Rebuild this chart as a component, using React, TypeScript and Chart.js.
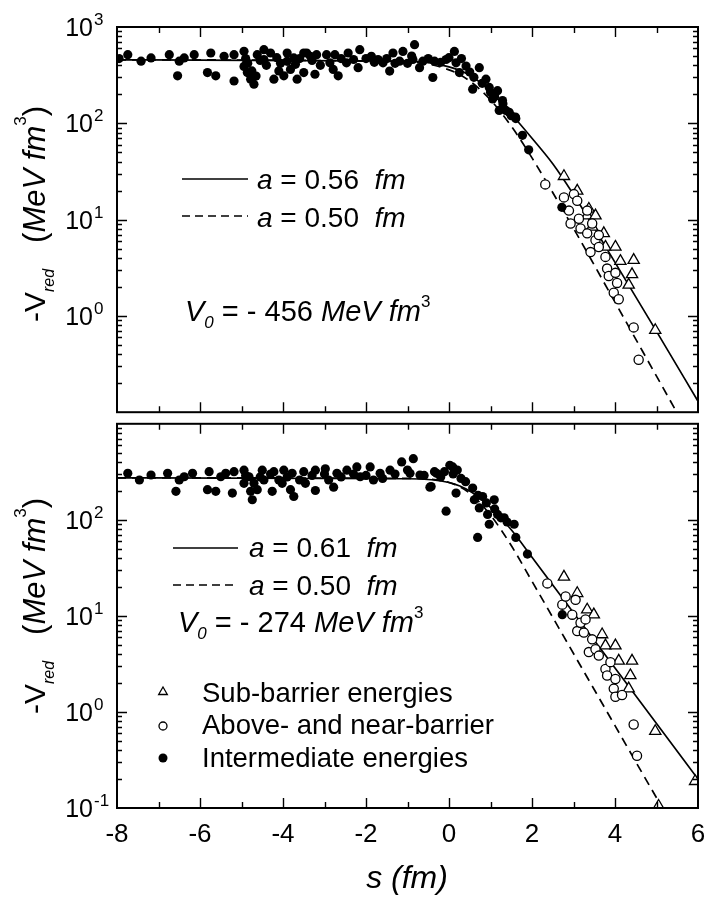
import React, { useEffect, useRef } from "react";
import { Chart, registerables } from "chart.js";
Chart.register(...registerables);

const FONT = '"Liberation Sans", Arial, Helvetica, sans-serif';

// ---------------- axes ----------------
const X_MIN = -8;
const X_MAX = 6;
const Y_MIN = 0.1;
const Y_MAX = 1000;
const xTickValues = [-8, -7, -6, -5, -4, -3, -2, -1, 0, 1, 2, 3, 4, 5, 6];
const xLabelValues = [-8, -6, -4, -2, 0, 2, 4, 6];
const xLabelTexts = ["-8", "-6", "-4", "-2", "0", "2", "4", "6"];
const yDecades = [0.1, 1, 10, 100, 1000];
const yMinorMultipliers = [2, 3, 4, 5, 6, 7, 8, 9];
const topYLabelValues = [1000, 100, 10, 1];
const topYLabelExps = ["3", "2", "1", "0"];
const botYLabelValues = [100, 10, 1, 0.1];
const botYLabelExps = ["2", "1", "0", "-1"];

// ---------------- top panel data (s [fm], -V_red) ----------------
const topFilled: [number, number][] = [
  [-7.95, 470], [-7.74, 516], [-7.42, 442], [-7.18, 477], [-6.74, 516], [-6.54, 311], [-6.5, 442],
  [-6.38, 477], [-6.14, 516], [-5.82, 336], [-5.74, 537], [-5.62, 311], [-5.42, 497], [-5.18, 516],
  [-5.18, 275], [-4.94, 560], [-4.94, 390], [-4.9, 470], [-4.86, 336], [-4.85, 420], [-4.78, 287],
  [-4.75, 350], [-4.7, 255], [-4.65, 310], [-4.62, 516], [-4.55, 450], [-4.46, 581], [-4.46, 460],
  [-4.4, 400], [-4.3, 537], [-4.22, 287], [-4.15, 480], [-4.1, 350], [-4.06, 420], [-3.98, 311],
  [-3.9, 537], [-3.9, 440], [-3.82, 363], [-3.74, 477], [-3.7, 410], [-3.66, 287], [-3.6, 470],
  [-3.5, 537], [-3.5, 336], [-3.43, 537], [-3.34, 497], [-3.3, 450], [-3.23, 323], [-3.19, 516],
  [-3.1, 400], [-2.95, 516], [-2.87, 425], [-2.79, 363], [-2.75, 516], [-2.67, 311], [-2.6, 470],
  [-2.47, 425], [-2.43, 537], [-2.3, 460], [-2.19, 378], [-2.15, 581], [-2.0, 470], [-1.87, 497],
  [-1.8, 430], [-1.71, 460], [-1.59, 425], [-1.5, 470], [-1.43, 349], [-1.35, 537], [-1.3, 420],
  [-1.19, 442], [-1.11, 558], [-1.0, 420], [-0.9, 500], [-0.87, 460], [-0.83, 655], [-0.71, 378],
  [-0.63, 442], [-0.5, 470], [-0.39, 299], [-0.35, 442], [-0.2, 430], [-0.07, 460], [0.0, 480],
  [0.13, 558], [0.17, 425], [0.25, 336], [0.3, 470], [0.41, 393], [0.5, 340], [0.57, 226],
  [0.6, 300], [0.73, 378], [0.8, 260], [0.89, 287], [0.97, 236], [1.0, 210], [1.05, 179],
  [1.1, 190], [1.17, 218], [1.21, 136], [1.29, 172], [1.3, 160], [1.37, 136], [1.45, 130],
  [1.5, 120], [1.6, 116], [1.61, 112], [1.77, 75], [1.92, 53], [2.72, 13.4],
];
const topOpen: [number, number][] = [
  [2.32, 23.2], [2.77, 17], [2.89, 12.4], [2.93, 9.1], [3.01, 18.4], [3.09, 15.7], [3.13, 10.2],
  [3.17, 8.1], [3.33, 12.4], [3.33, 7.2], [3.41, 4.6], [3.45, 9.1], [3.53, 6.1], [3.61, 5.2],
  [3.61, 6.9], [3.77, 4.1], [3.81, 3.1], [3.85, 2.6], [3.97, 1.74], [4.01, 2.8], [4.05, 2.2],
  [4.09, 1.49], [4.45, 0.76], [4.57, 0.35],
];
const topTriangles: [number, number][] = [
  [2.77, 28.2], [3.09, 19.9], [3.33, 11], [3.37, 12.9], [3.45, 8.4], [3.53, 11], [3.73, 7.2],
  [3.77, 5.2], [4.01, 5.2], [4.13, 3.7], [4.33, 2.1], [4.41, 2.7], [4.45, 3.8], [4.97, 0.71],
];
const topSolidS = [-8, -1, 0, 0.5, 1, 1.5, 2, 2.5, 3, 4, 5, 6];
const topSolidV = [456, 442, 385, 315, 215, 125, 70, 38, 18.2, 3.6, 0.69, 0.13];
const topDashedS = [-8, -1, 0, 0.5, 1, 1.5, 2, 3, 4, 5, 5.6];
const topDashedV = [456, 436, 359, 275, 175, 93.5, 43.7, 8.1, 1.39, 0.237, 0.082];

// ---------------- bottom panel data ----------------
const botFilled: [number, number][] = [
  [-7.74, 305], [-7.46, 260], [-7.18, 293], [-6.78, 305], [-6.58, 198], [-6.5, 260], [-6.38, 281],
  [-6.18, 305], [-5.82, 206], [-5.78, 317], [-5.62, 198], [-5.5, 281], [-5.38, 305], [-5.22, 190],
  [-5.18, 317], [-4.94, 329], [-4.94, 240], [-4.9, 290], [-4.82, 281], [-4.78, 198], [-4.74, 162],
  [-4.7, 240], [-4.62, 206], [-4.55, 280], [-4.5, 329], [-4.46, 260], [-4.3, 300], [-4.26, 198],
  [-4.22, 317], [-4.1, 260], [-4.02, 240], [-3.98, 329], [-3.9, 280], [-3.82, 206], [-3.78, 305],
  [-3.74, 175], [-3.6, 260], [-3.5, 317], [-3.46, 240], [-3.3, 290], [-3.22, 329], [-3.22, 202],
  [-3.0, 300], [-2.98, 340], [-2.9, 260], [-2.78, 219], [-2.7, 305], [-2.6, 280], [-2.46, 329],
  [-2.3, 300], [-2.22, 356], [-2.14, 281], [-2.0, 290], [-1.9, 356], [-1.82, 260], [-1.66, 305],
  [-1.6, 270], [-1.42, 329], [-1.3, 300], [-1.14, 401], [-1.0, 330], [-0.94, 305], [-0.86, 433],
  [-0.7, 293], [-0.6, 290], [-0.46, 219], [-0.43, 222], [-0.35, 317], [-0.3, 305], [-0.2, 280],
  [-0.11, 317], [-0.07, 123], [0.02, 370], [0.09, 356], [0.1, 300], [0.17, 190], [0.2, 330],
  [0.29, 270], [0.4, 250], [0.57, 214], [0.61, 162], [0.69, 65.6], [0.7, 180], [0.73, 133],
  [0.81, 175], [0.9, 150], [0.93, 114], [0.97, 90], [1.09, 162], [1.1, 130], [1.17, 114],
  [1.25, 105], [1.33, 105], [1.4, 95], [1.57, 90], [1.61, 65.6], [1.89, 44], [2.73, 10.3],
];
const botOpen: [number, number][] = [
  [2.37, 21.8], [2.73, 13.1], [2.81, 15.9], [2.97, 10.3], [3.05, 14.7], [3.09, 6.95], [3.17, 8.5],
  [3.25, 6.7], [3.29, 9.2], [3.37, 4.2], [3.45, 5.7], [3.53, 4.5], [3.61, 3.86], [3.77, 2.8],
  [3.81, 2.4], [3.89, 3.3], [3.97, 1.75], [4.01, 2.2], [4.01, 1.44], [4.17, 1.5], [4.45, 0.74],
  [4.53, 0.35],
];
const botTriangles: [number, number][] = [
  [2.77, 25.5], [3.09, 17.2], [3.33, 11.6], [3.49, 10.3], [3.69, 6.4], [3.77, 4.9], [4.01, 4.9],
  [4.09, 3.4], [4.33, 1.75], [4.37, 2.4], [4.41, 3.4], [4.97, 0.63], [5.05, 0.105], [5.93, 0.19],
];
const botSolidS = [-8, -1, 0, 0.5, 1, 1.5, 2, 3, 4, 5, 6];
const botSolidV = [274, 268, 245, 200, 135, 79, 40.9, 10.8, 2.87, 0.76, 0.2];
const botDashedS = [-8, -1, 0, 0.5, 1, 1.5, 2, 3, 4, 5, 5.4];
const botDashedV = [274, 270, 245, 190, 112, 54, 22.9, 4.06, 0.72, 0.128, 0.065];

// ---------------- text helpers ----------------
type Seg = { t: string; s: number; i?: boolean; dy?: number; g?: number };

function fontOf(seg: Seg) {
  return `${seg.i ? "italic " : ""}${seg.s}px ${FONT}`;
}

function drawRich(ctx: CanvasRenderingContext2D, x: number, y: number, segs: Seg[], align: "left" | "right" | "center" = "left") {
  ctx.textBaseline = "alphabetic";
  ctx.textAlign = "left";
  const widths = segs.map((sg) => {
    ctx.font = fontOf(sg);
    return ctx.measureText(sg.t).width + (sg.g || 0);
  });
  const total = widths.reduce((p, c) => p + c, 0);
  let cx = align === "left" ? x : align === "right" ? x - total : x - total / 2;
  segs.forEach((sg, k) => {
    ctx.font = fontOf(sg);
    ctx.fillText(sg.t, cx, y + (sg.dy || 0));
    cx += widths[k];
  });
}

function drawYTitle(ctx: CanvasRenderingContext2D, x: number, y: number) {
  ctx.save();
  ctx.translate(x, y);
  ctx.rotate(-Math.PI / 2);
  drawRich(ctx, 0, 0, [
    { t: "-V", s: 30 },
    { t: "red", s: 16, i: true, dy: 9, g: 26 },
    { t: "(", s: 31 },
    { t: "MeV fm", s: 31, i: true },
    { t: "3", s: 17, dy: -19 },
    { t: ")", s: 31 },
  ], "center");
  ctx.restore();
}

function sampleLine(ctx: CanvasRenderingContext2D, x1: number, x2: number, y: number, dash: number[]) {
  ctx.save();
  ctx.lineWidth = 1.6;
  ctx.setLineDash(dash);
  ctx.beginPath();
  ctx.moveTo(x1, y);
  ctx.lineTo(x2, y);
  ctx.stroke();
  ctx.restore();
}

function fitText(ctx: CanvasRenderingContext2D, x: number, y: number, val: string) {
  drawRich(ctx, x, y, [
    { t: "a", s: 28, i: true },
    { t: " = " + val + "  ", s: 28 },
    { t: "fm", s: 28, i: true },
  ]);
}

function v0Text(ctx: CanvasRenderingContext2D, x: number, y: number, val: string) {
  drawRich(ctx, x, y, [
    { t: "V", s: 29, i: true },
    { t: "0", s: 17, i: true, dy: 7 },
    { t: " = - " + val + " ", s: 29 },
    { t: "MeV fm", s: 29, i: true },
    { t: "3", s: 17, dy: -14 },
  ]);
}

function decorPlugin(cfg: {
  offsetY: number;
  yLabelValues: number[];
  yLabelExps: string[];
  showXLabels: boolean;
  texts: (ctx: CanvasRenderingContext2D) => void;
}) {
  return {
    id: "decor",
    afterDraw(chart: any) {
      const ctx: CanvasRenderingContext2D = chart.ctx;
      const a = chart.chartArea;
      const xs = chart.scales.x;
      const ys = chart.scales.y;
      ctx.save();
      ctx.strokeStyle = "#000";
      ctx.fillStyle = "#000";
      ctx.lineWidth = 1.4;
      ctx.beginPath();
      xTickValues.forEach((v) => {
        if (v === X_MIN || v === X_MAX) return;
        const px = Math.round(xs.getPixelForValue(v)) + 0.5;
        const len = v % 2 === 0 ? 10 : 6;
        ctx.moveTo(px, a.top);
        ctx.lineTo(px, a.top + len);
        ctx.moveTo(px, a.bottom);
        ctx.lineTo(px, a.bottom - len);
      });
      yDecades.forEach((d) => {
        if (d > Y_MIN && d < Y_MAX) {
          const py = Math.round(ys.getPixelForValue(d)) + 0.5;
          ctx.moveTo(a.left, py);
          ctx.lineTo(a.left + 10, py);
          ctx.moveTo(a.right, py);
          ctx.lineTo(a.right - 10, py);
        }
        yMinorMultipliers.forEach((m) => {
          const v = d * m;
          if (v >= Y_MAX) return;
          const p = Math.round(ys.getPixelForValue(v)) + 0.5;
          ctx.moveTo(a.left, p);
          ctx.lineTo(a.left + 5, p);
          ctx.moveTo(a.right, p);
          ctx.lineTo(a.right - 5, p);
        });
      });
      ctx.stroke();
      ctx.lineWidth = 2;
      ctx.strokeRect(a.left, a.top, a.right - a.left, a.bottom - a.top);
      cfg.yLabelValues.forEach((v, k) => {
        const py = ys.getPixelForValue(v);
        drawRich(ctx, 93, py + 9, [{ t: "10", s: 25 }], "right");
        drawRich(ctx, 94, py - 2, [{ t: cfg.yLabelExps[k], s: 17 }], "left");
      });
      if (cfg.showXLabels) {
        xLabelValues.forEach((v, k) => {
          const px = xs.getPixelForValue(v);
          drawRich(ctx, px, 842 - cfg.offsetY, [{ t: xLabelTexts[k], s: 26 }], "center");
        });
      }
      ctx.translate(0, -cfg.offsetY);
      cfg.texts(ctx);
      ctx.restore();
    },
  };
}

function pts(arr: [number, number][]) {
  return arr.map(([x, y]) => ({ x, y }));
}
function linePts(s: number[], v: number[]) {
  return s.map((x, k) => ({ x, y: v[k] }));
}

function makeDatasets(filled: [number, number][], open: [number, number][], tri: [number, number][], solid: { x: number; y: number }[], dashed: { x: number; y: number }[]) {
  return [
    { label: "filled", data: pts(filled), pointStyle: "circle", pointRadius: 4.6, backgroundColor: "#000", borderColor: "#000", borderWidth: 0, showLine: false, order: 0 },
    { label: "open", data: pts(open), pointStyle: "circle", pointRadius: 4.6, backgroundColor: "#fff", borderColor: "#000", borderWidth: 1.3, showLine: false, order: 0 },
    { label: "tri", data: pts(tri), pointStyle: "triangle", pointRadius: 6.5, backgroundColor: "#fff", borderColor: "#000", borderWidth: 1.3, showLine: false, order: 0 },
    { label: "solid", data: solid, showLine: true, pointRadius: 0, borderColor: "#000", borderWidth: 1.7, cubicInterpolationMode: "monotone", fill: false, order: 1 },
    { label: "dashed", data: dashed, showLine: true, pointRadius: 0, borderColor: "#000", borderWidth: 1.7, borderDash: [9, 6], cubicInterpolationMode: "monotone", fill: false, order: 1 },
  ];
}

function baseOptions(padding: any) {
  return {
    animation: false,
    responsive: false,
    maintainAspectRatio: false,
    events: [],
    layout: { padding },
    plugins: { legend: { display: false }, tooltip: { enabled: false } },
    scales: {
      x: { type: "linear", min: X_MIN, max: X_MAX, display: false },
      y: { type: "logarithmic", min: Y_MIN, max: Y_MAX, display: false },
    },
  };
}

const TOP_CANVAS_Y = 0;
const TOP_CANVAS_H = 420;
const BOT_CANVAS_Y = 416;
const BOT_CANVAS_H = 491;

export default function App() {
  const topRef = useRef<HTMLCanvasElement>(null);
  const botRef = useRef<HTMLCanvasElement>(null);

  useEffect(() => {
    document.body.style.margin = "0";
    const topTexts = (ctx: CanvasRenderingContext2D) => {
      drawYTitle(ctx, 45, 214);
      sampleLine(ctx, 182, 248, 179, []);
      fitText(ctx, 257, 189, "0.56");
      sampleLine(ctx, 182, 248, 216, [8, 5]);
      fitText(ctx, 257, 227, "0.50");
      v0Text(ctx, 185, 321, "456");
    };
    const botTexts = (ctx: CanvasRenderingContext2D) => {
      drawYTitle(ctx, 45, 606);
      sampleLine(ctx, 173, 238, 548, []);
      fitText(ctx, 249, 557, "0.61");
      sampleLine(ctx, 173, 238, 585, [8, 5]);
      fitText(ctx, 249, 595, "0.50");
      v0Text(ctx, 178, 632, "274");
      // legend markers
      ctx.save();
      ctx.lineWidth = 1.3;
      ctx.beginPath();
      const tx = 163, ty = 692, r = 5;
      ctx.moveTo(tx, ty - r);
      ctx.lineTo(tx + r * 0.866, ty + r * 0.5);
      ctx.lineTo(tx - r * 0.866, ty + r * 0.5);
      ctx.closePath();
      ctx.stroke();
      ctx.beginPath();
      ctx.arc(163, 726, 4, 0, Math.PI * 2);
      ctx.stroke();
      ctx.beginPath();
      ctx.arc(163, 758, 4.5, 0, Math.PI * 2);
      ctx.fill();
      ctx.restore();
      drawRich(ctx, 202, 702, [{ t: "Sub-barrier energies", s: 27.5 }]);
      drawRich(ctx, 202, 734, [{ t: "Above- and near-barrier", s: 27.5 }]);
      drawRich(ctx, 202, 767, [{ t: "Intermediate energies", s: 27.5 }]);
      // x title
      drawRich(ctx, 407, 888, [{ t: "s (fm)", s: 32, i: true }], "center");
    };

    const top = new Chart(topRef.current as HTMLCanvasElement, {
      type: "scatter",
      data: { datasets: makeDatasets(topFilled, topOpen, topTriangles, linePts(topSolidS, topSolidV), linePts(topDashedS, topDashedV)) as any },
      options: baseOptions({ left: 117, right: 8, top: 27, bottom: 2 }) as any,
      plugins: [decorPlugin({ offsetY: TOP_CANVAS_Y, yLabelValues: topYLabelValues, yLabelExps: topYLabelExps, showXLabels: false, texts: topTexts }) as any],
    });
    const bot = new Chart(botRef.current as HTMLCanvasElement, {
      type: "scatter",
      data: { datasets: makeDatasets(botFilled, botOpen, botTriangles, linePts(botSolidS, botSolidV), linePts(botDashedS, botDashedV)) as any },
      options: baseOptions({ left: 117, right: 8, top: 2, bottom: 99 }) as any,
      plugins: [decorPlugin({ offsetY: BOT_CANVAS_Y, yLabelValues: botYLabelValues, yLabelExps: botYLabelExps, showXLabels: true, texts: botTexts }) as any],
    });
    return () => {
      top.destroy();
      bot.destroy();
    };
  }, []);

  return (
    <div style={{ position: "relative", width: 706, height: 907, background: "#fff" }}>
      <canvas ref={topRef} width={706} height={TOP_CANVAS_H} style={{ position: "absolute", left: 0, top: TOP_CANVAS_Y, width: 706, height: TOP_CANVAS_H }} />
      <canvas ref={botRef} width={706} height={BOT_CANVAS_H} style={{ position: "absolute", left: 0, top: BOT_CANVAS_Y, width: 706, height: BOT_CANVAS_H }} />
    </div>
  );
}
